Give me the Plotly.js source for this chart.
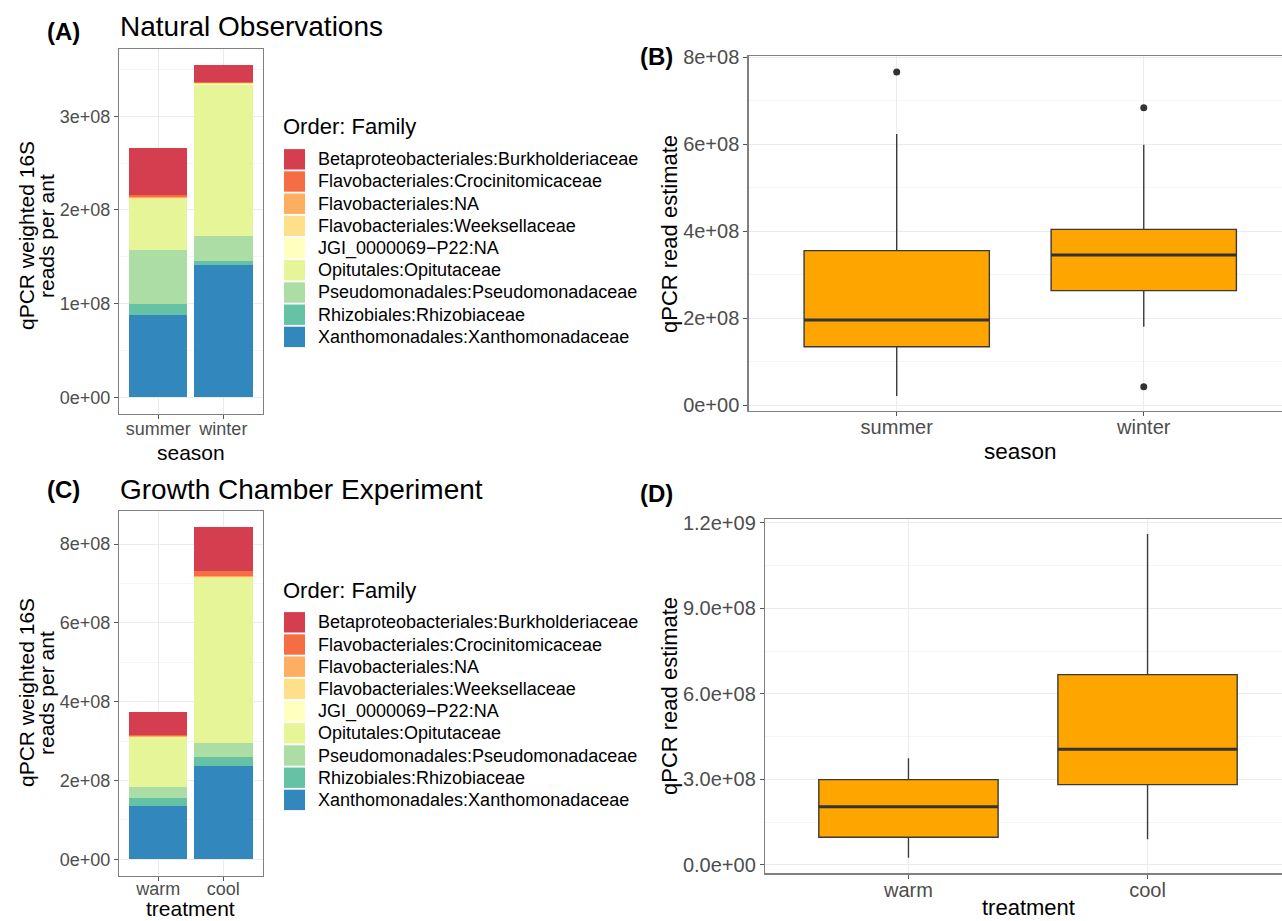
<!DOCTYPE html>
<html>
<head>
<meta charset="utf-8">
<script src="https://cdn.plot.ly/plotly-3.0.1.min.js"></script>
<style>html,body{margin:0;padding:0;background:#fff}#chart{width:1282px;height:921px}</style>
</head>
<body>
<div id="chart"></div>
<script>
// ---------------- DATA ----------------
const families = [
  'Betaproteobacteriales:Burkholderiaceae',
  'Flavobacteriales:Crocinitomicaceae',
  'Flavobacteriales:NA',
  'Flavobacteriales:Weeksellaceae',
  'JGI_0000069\u2212P22:NA',
  'Opitutales:Opitutaceae',
  'Pseudomonadales:Pseudomonadaceae',
  'Rhizobiales:Rhizobiaceae',
  'Xanthomonadales:Xanthomonadaceae'
];
const familyColors = ['#D53E4F','#F46D43','#FDAE61','#FEE08B','#FFFFBF','#E6F598','#ABDDA4','#66C2A5','#3288BD'];

const seasons = ['summer','winter'];
const treatments = ['warm','cool'];

// stacked reads per family (legend order), panel A
const natSummer = [0.504e8, 0.020e8, 0.012e8, 0.008e8, 0.004e8, 0.539e8, 0.582e8, 0.117e8, 0.879e8];
const natWinter = [0.178e8, 0.010e8, 0.006e8, 0.006e8, 0.006e8, 1.614e8, 0.269e8, 0.043e8, 1.411e8];
// panel C
const expWarm = [0.584e8, 0.030e8, 0.012e8, 0.010e8, 0.008e8, 1.268e8, 0.279e8, 0.195e8, 1.353e8];
const expCool = [1.108e8, 0.120e8, 0.020e8, 0.025e8, 0.020e8, 4.186e8, 0.338e8, 0.229e8, 2.376e8];

// box statistics, panel B (season)
const seasonLower  = [0.207e8, 1.802e8];
const seasonQ1     = [1.342e8, 2.631e8];
const seasonMedian = [1.956e8, 3.452e8];
const seasonQ3     = [3.551e8, 4.042e8];
const seasonUpper  = [6.236e8, 5.990e8];
const seasonOutlierX = ['summer','winter','winter'];
const seasonOutlierY = [7.66e8, 6.842e8, 0.422e8];

// box statistics, panel D (treatment)
const treatLower  = [0.257e8, 0.900e8];
const treatQ1     = [0.970e8, 2.816e8];
const treatMedian = [2.045e8, 4.055e8];
const treatQ3     = [2.991e8, 6.672e8];
const treatUpper  = [3.739e8, 11.60e8];

const yTicksA = [0, 1e8, 2e8, 3e8];
const yTextA  = ['0e+00','1e+08','2e+08','3e+08'];
const yTicksB = [0, 2e8, 4e8, 6e8, 8e8];
const yTextB  = ['0e+00','2e+08','4e+08','6e+08','8e+08'];
const yTicksC = [0, 2e8, 4e8, 6e8, 8e8];
const yTextC  = ['0e+00','2e+08','4e+08','6e+08','8e+08'];
const yTicksD = [0, 3e8, 6e8, 9e8, 12e8];
const yTextD  = ['0.0e+00','3.0e+08','6.0e+08','9.0e+08','1.2e+09'];

// ---------------- HELPERS ----------------
const W = 1282, H = 921;
const FONT = 'Liberation Sans, Arial, Helvetica, sans-serif';
const px = v => v / W;
const py = v => 1 - v / H;

const traces = [];
// stacked bars: bottom family first
for (let i = families.length - 1; i >= 0; i--) {
  traces.push({
    type: 'bar', x: seasons, y: [natSummer[i], natWinter[i]],
    xaxis: 'x', yaxis: 'y', width: 0.9, name: families[i], showlegend: false,
    marker: {color: familyColors[i], line: {width: 0}}
  });
  traces.push({
    type: 'bar', x: treatments, y: [expWarm[i], expCool[i]],
    xaxis: 'x3', yaxis: 'y3', width: 0.9, name: families[i], showlegend: false,
    marker: {color: familyColors[i], line: {width: 0}}
  });
}

const boxStyle = {fillcolor: '#FFA500', line: {color: '#3a3a3a', width: 1.4}, whiskerwidth: 0, boxpoints: false, width: 0.75, showlegend: false};
traces.push(Object.assign({
  type: 'box', x: seasons, q1: seasonQ1, median: seasonMedian, q3: seasonQ3,
  lowerfence: seasonLower, upperfence: seasonUpper, xaxis: 'x2', yaxis: 'y2'
}, boxStyle));
traces.push({
  type: 'scatter', mode: 'markers', x: seasonOutlierX, y: seasonOutlierY,
  xaxis: 'x2', yaxis: 'y2', showlegend: false,
  marker: {color: '#333333', size: 7}
});
traces.push(Object.assign({
  type: 'box', x: treatments, q1: treatQ1, median: treatMedian, q3: treatQ3,
  lowerfence: treatLower, upperfence: treatUpper, xaxis: 'x4', yaxis: 'y4'
}, boxStyle));

// ---------------- AXES ----------------
const tickfontS = {family: FONT, size: 18, color: '#4D4D4D'};
const tickfontL = {family: FONT, size: 20, color: '#4D4D4D'};
function xAxis(dom, anchor, cats, range, tf, standoff) {
  return {
    domain: dom, anchor: anchor, type: 'category', categoryorder: 'array', categoryarray: cats,
    range: range, showgrid: true, gridcolor: '#EBEBEB', gridwidth: 1,
    showline: true, mirror: true, linecolor: '#808080', linewidth: 1.2,
    ticks: 'outside', ticklen: 4, tickcolor: '#555', tickwidth: 1,
    ticklabelstandoff: standoff,
    tickfont: tf, zeroline: false, fixedrange: true
  };
}
function yAxis(dom, anchor, range, vals, text, minorVals, mirror, tf) {
  return {
    domain: dom, anchor: anchor, range: range, tickmode: 'array', tickvals: vals, ticktext: text,
    showgrid: true, gridcolor: '#EBEBEB', gridwidth: 1,
    minor: {tickmode: 'array', tickvals: minorVals, showgrid: true, gridcolor: '#F5F5F5', gridwidth: 1, ticks: ''},
    showline: true, mirror: mirror, linecolor: '#808080', linewidth: 1.2,
    ticks: 'outside', ticklen: 4, tickcolor: '#555', tickwidth: 1,
    tickfont: tf, zeroline: false, fixedrange: true
  };
}

// ---------------- ANNOTATIONS & SHAPES ----------------
const annotations = [];
const shapes = [];
function txt(text, x, y, size, opts) {
  annotations.push(Object.assign({
    text: text, x: px(x), y: py(y), xref: 'paper', yref: 'paper',
    showarrow: false, xanchor: 'center', yanchor: 'middle', borderpad: 0,
    font: {family: FONT, size: size, color: '#000'}
  }, opts || {}));
}
txt('<b>(A)</b>', 63, 31, 24);
txt('Natural Observations', 119, 26, 28, {xanchor: 'left'});
txt('<b>(B)</b>', 657, 56, 24);
txt('<b>(C)</b>', 63, 489, 24);
txt('Growth Chamber Experiment', 119, 489, 28, {xanchor: 'left'});
txt('<b>(D)</b>', 657, 493, 24);

// axis titles
txt('qPCR weighted 16S', 26, 236, 21, {textangle: -90});
txt('reads per ant', 46, 236, 21, {textangle: -90});
txt('qPCR weighted 16S', 26, 693, 21, {textangle: -90});
txt('reads per ant', 46, 693, 21, {textangle: -90});
txt('season', 190.5, 452, 21);
txt('treatment', 190.5, 921, 21, {yanchor: 'bottom'});
txt('qPCR read estimate', 669, 234, 22, {textangle: -90});
txt('season', 1020, 451, 22.5);
txt('qPCR read estimate', 669, 696, 22, {textangle: -90});
txt('treatment', 1028, 921, 22, {yanchor: 'bottom'});

// legends
function legend(titleY, firstY) {
  txt('Order: Family', 282, titleY, 22, {xanchor: 'left'});
  for (let i = 0; i < families.length; i++) {
    const cy = firstY + i * 22.2;
    shapes.push({type: 'rect', xref: 'paper', yref: 'paper',
      x0: px(284), x1: px(305), y0: py(cy + 10.2), y1: py(cy - 10.2),
      fillcolor: familyColors[i], line: {width: 0}});
    txt(families[i], 317, cy, 18, {xanchor: 'left'});
  }
}
legend(126, 159.3);
legend(590, 622.3);

// thicker median lines for boxplots (from the median arrays)
seasonMedian.forEach((m, i) => shapes.push({type: 'line', xref: 'x2', yref: 'y2',
  x0: i - 0.375, x1: i + 0.375, y0: m, y1: m, line: {color: '#333333', width: 3}}));
treatMedian.forEach((m, i) => shapes.push({type: 'line', xref: 'x4', yref: 'y4',
  x0: i - 0.375, x1: i + 0.375, y0: m, y1: m, line: {color: '#333333', width: 3}}));

const layout = {
  width: W, height: H, margin: {l: 0, r: 0, t: 0, b: 0},
  paper_bgcolor: '#fff', plot_bgcolor: '#fff',
  barmode: 'stack', showlegend: false,
  font: {family: FONT},
  xaxis:  xAxis([px(119), px(262.5)], 'y', seasons, [-0.6, 1.6], tickfontS, -6),
  yaxis:  yAxis([py(414), py(49)], 'x', [-0.177e8, 3.717e8], yTicksA, yTextA, [0.5e8, 1.5e8, 2.5e8, 3.5e8], true, tickfontS),
  xaxis3: xAxis([px(119), px(262.5)], 'y3', treatments, [-0.6, 1.6], tickfontS, -8),
  yaxis3: yAxis([py(876), py(511)], 'x3', [-0.424e8, 8.84e8], yTicksC, yTextC, [1e8, 3e8, 5e8, 7e8], true, tickfontS),
  xaxis2: xAxis([px(748.5), 1], 'y2', seasons, [-0.6, (1282 - 896) / 247.5], tickfontL, -6),
  yaxis2: yAxis([py(411), py(56)], 'x2', [-0.138e8, 8.03e8], yTicksB, yTextB, [1e8, 3e8, 5e8, 7e8], false, tickfontL),
  xaxis4: xAxis([px(765), 1], 'y4', treatments, [-0.6, (1282 - 908.6) / 239], tickfontL, -6),
  yaxis4: yAxis([py(873.3), py(518.7)], 'x4', [-0.292e8, 12.14e8], yTicksD, yTextD, [1.5e8, 4.5e8, 7.5e8, 10.5e8], false, tickfontL),
  annotations: annotations,
  shapes: shapes
};

Plotly.newPlot('chart', traces, layout, {staticPlot: true, displayModeBar: false});
</script>
</body>
</html>
